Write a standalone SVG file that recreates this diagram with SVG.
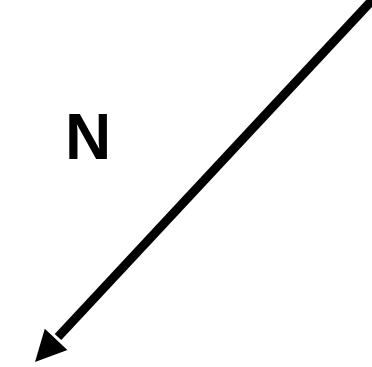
<svg xmlns="http://www.w3.org/2000/svg" width="372" height="367" viewBox="0 0 372 367">
<style>
.lbl{font-family:"Liberation Sans",Arial,sans-serif;font-weight:bold;font-size:64px;fill:#000}
.conn{stroke:#000;stroke-width:9;fill:none}
</style>
<rect width="372" height="367" fill="#fff"/>
<g id="label-n"><text class="lbl" x="65" y="159">N</text></g>
<g id="connectors">
<line class="conn" x1="376" y1="-4" x2="58" y2="337"/>
<polygon points="35,362 67.4,349.9 44.8,328.7" fill="#000"/>
</g>
</svg>
